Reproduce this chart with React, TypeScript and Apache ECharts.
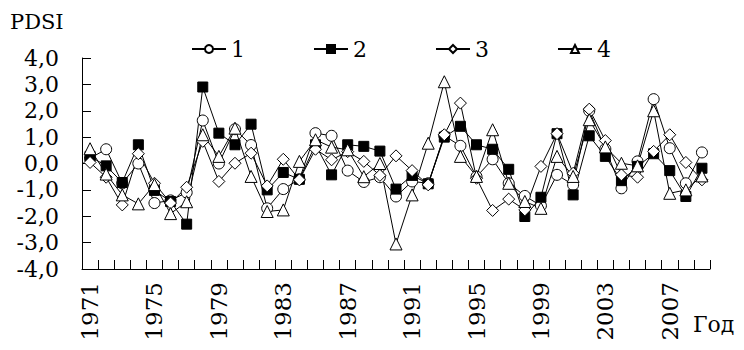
import React, { useEffect, useRef } from "react";
import * as echarts from "echarts";

const years = [
  "1971", "1972", "1973", "1974", "1975", "1976", "1977", "1978", "1979", "1980",
  "1981", "1982", "1983", "1984", "1985", "1986", "1987", "1988", "1989", "1990",
  "1991", "1992", "1993", "1994", "1995", "1996", "1997", "1998", "1999", "2000",
  "2001", "2002", "2003", "2004", "2005", "2006", "2007", "2008", "2009",
];

const series1 = [
  0.2, 0.54, -0.75, 0.0, -1.5, -1.4, -1.1, 1.63, 0.0, 1.3,
  0.7, -1.7, -0.97, -0.6, 1.15, 1.05, -0.27, -0.7, -0.52, -1.25,
  -0.68, -0.75, 1.05, 0.67, -0.5, 0.16, -0.75, -1.23, -1.6, -0.43,
  -0.81, 2.0, 0.55, -0.94, 0.08, 2.44, 0.58, -0.75, 0.42,
];
const series2 = [
  0.27, -0.09, -0.72, 0.71, -1.02, -1.44, -2.3, 2.9, 1.15, 0.71,
  1.49, -1.0, -0.34, -0.6, 0.71, -0.43, 0.71, 0.65, 0.47, -0.97,
  -0.45, -0.77, 1.0, 1.41, 0.71, 0.54, -0.22, -2.01, -1.28, 1.13,
  -1.19, 1.05, 0.27, -0.65, -0.11, 0.37, -0.27, -1.25, -0.18,
];
const series3 = [
  0.04, -0.52, -1.57, 0.37, -0.75, -1.5, -0.9, 0.84, -0.68, 0.01,
  0.39, -0.85, 0.16, -0.62, 0.54, 0.14, 0.45, 0.08, -0.45, 0.29,
  -0.27, -0.81, 1.09, 2.29, -0.56, -1.78, -1.35, -1.76, -0.11, 1.13,
  -0.37, 2.06, 0.87, -0.43, -0.52, 0.46, 1.09, 0.04, -0.62,
];
const series4 = [
  0.56, -0.4, -1.19, -1.53, -0.8, -1.9, -1.45, 1.09, 0.27, 1.34,
  -0.49, -1.82, -1.76, 0.08, 0.9, 0.62, 0.52, -0.5, 0.0, -3.05,
  -1.19, 0.77, 3.1, 0.27, -0.49, 1.28, -0.75, -1.44, -1.7, 0.27,
  -0.49, 1.66, 0.63, 0.01, -0.09, 2.0, -1.13, -1.0, -0.47,
];

const seriesNames = ["1", "2", "3", "4"];
const yTicks = [-4, -3, -2, -1, 0, 1, 2, 3, 4];

const FONT = "DejaVu Serif";

export default function App() {
  const ref = useRef<HTMLDivElement>(null);
  useEffect(() => {
    if (!ref.current) return;
    document.body.style.margin = "0";
    const chart = echarts.init(ref.current, undefined, { renderer: "svg" });
    const mk = (name: string, data: number[], symbol: string, size: number, fill: string) => ({
      name,
      type: "line",
      data,
      symbol,
      symbolSize: size,
      showAllSymbol: true,
      lineStyle: { color: "#000", width: 1 },
      itemStyle: { color: fill, borderColor: "#000", borderWidth: 1 },
      emphasis: { disabled: true },
    });
    chart.setOption({
      animation: false,
      backgroundColor: "#fff",
      textStyle: { fontFamily: FONT, fontSize: 22, color: "#000" },
      legend: {
        left: 186,
        top: 33,
        itemWidth: 34,
        itemHeight: 10,
        itemGap: 68,
        textStyle: { fontFamily: FONT, fontSize: 22, color: "#000" },
        data: seriesNames,
      },
      grid: { left: 82, right: 34, top: 58, bottom: 81, containLabel: false },
      xAxis: {
        type: "category",
        position: "bottom",
        data: years,
        boundaryGap: true,
        axisLine: { show: true, onZero: false, lineStyle: { color: "#000", width: 1 } },
        axisTick: { show: true, inside: true, length: 9, interval: 0, lineStyle: { color: "#000" } },
        axisLabel: {
          interval: 3,
          rotate: 90,
          margin: 13,
          fontFamily: FONT,
          fontSize: 23,
          color: "#000",
        },
      },
      yAxis: {
        type: "value",
        min: yTicks[0],
        max: yTicks[yTicks.length - 1],
        interval: 1,
        splitLine: { show: false },
        axisLine: { show: true, onZero: false, lineStyle: { color: "#000", width: 1 } },
        axisTick: { show: true, inside: true, length: 9, lineStyle: { color: "#000" } },
        axisLabel: {
          margin: 23,
          fontFamily: FONT,
          fontSize: 22,
          color: "#000",
          formatter: (v: number) => v.toFixed(1).replace(".", ","),
        },
      },
      graphic: [
        {
          type: "text",
          left: 10,
          top: 11,
          style: { text: "PDSI", fontFamily: FONT, fontSize: 21, fill: "#000" },
        },
        {
          type: "text",
          left: 693,
          top: 313,
          style: { text: "Год", fontFamily: FONT, fontSize: 22, fill: "#000" },
        },
      ],
      series: [
        mk(seriesNames[0], series1, "circle", 11, "#fff"),
        mk(seriesNames[1], series2, "rect", 10, "#000"),
        mk(seriesNames[2], series3, "diamond", 12, "#fff"),
        mk(seriesNames[3], series4, "triangle", 12, "#fff"),
      ],
    });
    return () => chart.dispose();
  }, []);
  return <div ref={ref} style={{ width: 744, height: 350 }} />;
}
